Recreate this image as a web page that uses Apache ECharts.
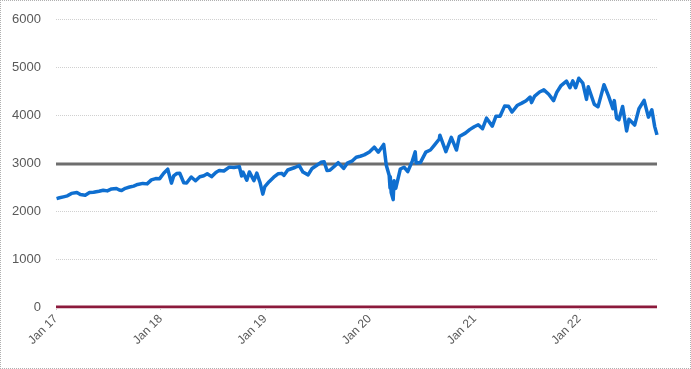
<!DOCTYPE html>
<html><head><meta charset="utf-8">
<script src="https://cdn.jsdelivr.net/npm/echarts@6/dist/echarts.min.js"></script>
<style>
html,body{margin:0;padding:0;background:#fff;}
#c{width:691px;height:369px;box-sizing:border-box;border:1px dotted #b0b0b0;}
</style></head>
<body><div id="c"></div>
<script>
const dates = [
"2017-01-03","2017-01-13","2017-01-27","2017-02-10","2017-02-24","2017-03-01","2017-03-15","2017-03-27","2017-04-13","2017-04-28","2017-05-12","2017-05-17","2017-05-31","2017-06-15","2017-06-29","2017-07-14","2017-07-31","2017-08-10","2017-08-18","2017-08-31","2017-09-15","2017-09-29","2017-10-13","2017-10-31","2017-11-15","2017-11-30","2017-12-15","2017-12-29",
"2018-01-12","2018-01-26","2018-02-08","2018-02-16","2018-02-26","2018-03-09","2018-03-23","2018-04-02","2018-04-18","2018-05-03","2018-05-18","2018-06-01","2018-06-13","2018-06-28","2018-07-13","2018-07-25","2018-08-10","2018-08-29","2018-09-14","2018-09-20","2018-10-03","2018-10-11","2018-10-16","2018-10-29","2018-11-07","2018-11-23","2018-12-03","2018-12-14","2018-12-24","2018-12-31",
"2019-01-15","2019-01-31","2019-02-15","2019-02-28","2019-03-08","2019-03-21","2019-04-15","2019-04-30","2019-05-13","2019-05-31","2019-06-14","2019-06-28","2019-07-15","2019-07-26","2019-08-05","2019-08-15","2019-08-30","2019-09-13","2019-10-02","2019-10-15","2019-10-31","2019-11-15","2019-11-29","2019-12-13","2019-12-31",
"2020-01-17","2020-01-31","2020-02-19","2020-02-28","2020-03-09","2020-03-12","2020-03-13","2020-03-16","2020-03-23","2020-03-26","2020-04-01","2020-04-17","2020-04-30","2020-05-13","2020-05-29","2020-06-08","2020-06-11","2020-06-26","2020-07-15","2020-07-31","2020-08-14","2020-08-31","2020-09-02","2020-09-23","2020-10-12","2020-10-30","2020-11-09","2020-11-30","2020-12-15","2020-12-31",
"2021-01-14","2021-01-29","2021-02-12","2021-03-04","2021-03-17","2021-03-31","2021-04-16","2021-04-30","2021-05-12","2021-05-31","2021-06-15","2021-06-30","2021-07-14","2021-07-19","2021-07-30","2021-08-16","2021-08-31","2021-09-02","2021-09-17","2021-10-04","2021-10-15","2021-10-29","2021-11-18","2021-11-30","2021-12-10","2021-12-20","2021-12-31",
"2022-01-03","2022-01-14","2022-01-27","2022-02-02","2022-02-23","2022-03-08","2022-03-29","2022-04-14","2022-04-29","2022-05-04","2022-05-12","2022-05-20","2022-06-02","2022-06-16","2022-06-24","2022-07-14","2022-07-29","2022-08-16","2022-08-31","2022-09-12","2022-09-22","2022-09-30"
];
const values = [
2258,2275,2295,2316,2367,2396,2385,2342,2329,2384,2391,2357,2412,2433,2419,2459,2470,2438,2426,2472,2500,2519,2553,2575,2565,2648,2676,2674,
2786,2873,2581,2732,2780,2786,2588,2582,2708,2630,2713,2735,2776,2716,2801,2846,2833,2914,2905,2930,2925,2729,2809,2641,2814,2633,2790,2600,2351,2507,
2610,2704,2775,2784,2743,2854,2906,2946,2811,2752,2887,2942,3014,3026,2844,2848,2926,3007,2888,2996,3038,3120,3141,3169,3231,
3330,3226,3386,2954,2747,2481,2711,2386,2237,2630,2471,2875,2912,2820,3044,3232,3002,3009,3227,3271,3373,3500,3580,3237,3535,3270,3551,3622,3695,3756,
3796,3714,3934,3768,3975,3973,4185,4181,4063,4204,4247,4298,4375,4258,4395,4479,4523,4537,4433,4300,4471,4605,4705,4567,4712,4568,4766,
4797,4663,4326,4589,4225,4170,4632,4392,4132,4300,3930,3901,4176,3667,3912,3790,4130,4305,3955,4110,3758,3586
];
const refLevel = 2980;
const zeroLevel = 0;
const tickDates = ["2017-01-01","2018-01-01","2019-01-01","2020-01-01","2021-01-01","2022-01-01"];
const tickLabels = ["Jan 17","Jan 18","Jan 19","Jan 20","Jan 21","Jan 22"];
const yTicks = [0,1000,2000,3000,4000,5000,6000];

const ts = d => new Date(d + "T00:00:00Z").getTime();
const tickTs = tickDates.map(ts);
const labelMap = {};
tickTs.forEach((t,i)=>labelMap[t]=tickLabels[i]);
const xMin = ts("2017-01-01"), xMax = ts("2022-09-30");

const chart = echarts.init(document.getElementById('c'), null, {renderer:'canvas'});
chart.setOption({
  animation:false,
  grid:{left:55,right:33,top:18,bottom:61,containLabel:false},
  xAxis:{
    type:'value', min:xMin, max:xMax,
    axisLine:{show:false},
    axisTick:{show:true, customValues:tickTs, length:3, lineStyle:{color:'#c8c8c8',type:'dotted'}},
    splitLine:{show:false},
    axisLabel:{customValues:tickTs, rotate:45, margin:10, color:'#595959', fontSize:12,
      fontFamily:'Liberation Sans, Arial, sans-serif',
      formatter:v=>labelMap[v]||''}
  },
  yAxis:{
    type:'value', min:yTicks[0], max:yTicks[yTicks.length-1], interval:1000,
    axisLine:{show:false}, axisTick:{show:false},
    axisLabel:{color:'#595959', fontSize:13, margin:15, fontFamily:'Liberation Sans, Arial, sans-serif',
      formatter:v=>String(v)},
    splitLine:{show:true, lineStyle:{color:'#d0d0d0', type:[1,1], width:1}}
  },
  series:[
    {type:'line', data:[[xMin,zeroLevel],[xMax,zeroLevel]], symbol:'none', lineStyle:{color:'#8c1a3c', width:3}, z:3},
    {type:'line', data:[[xMin,refLevel],[xMax,refLevel]], symbol:'none', lineStyle:{color:'#6e6e6e', width:3}, z:3},
    {type:'line', data:dates.map((d,i)=>[ts(d),values[i]]), symbol:'none',
      lineStyle:{color:'#0f6fd0', width:3.5, join:'round'}, z:4}
  ]
});
</script></body></html>
